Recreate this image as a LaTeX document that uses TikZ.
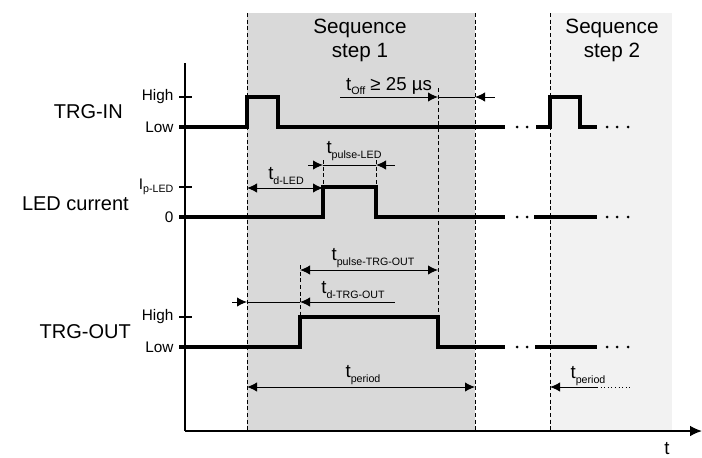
\documentclass[tikz,border=0pt]{standalone}
\usepackage{fontspec}
\setmainfont{Liberation Sans}
\usepackage{tikz}
\usetikzlibrary{arrows.meta}
\definecolor{stepone}{RGB}{217,217,217}
\definecolor{steptwo}{RGB}{242,242,242}
\newcommand{\tsub}[2]{#1\raisebox{-0.45ex}{\fontsize{8}{9}\selectfont #2}}
\newcommand{\bigsz}{\fontsize{15}{17}\selectfont}
\newcommand{\seqsz}{\fontsize{15.5}{18}\selectfont}

\begin{document}
\begin{tikzpicture}[
  x=0.75pt, y=-0.75pt, >={Latex[length=7.5pt,width=7pt]},
  signal/.style={line width=2.3pt},
  axisline/.style={line width=1.1pt},
  dim/.style={line width=0.7pt},
  guide/.style={line width=0.7pt, dash pattern=on 3pt off 2pt},
  lvl/.style={anchor=east, font=\fontsize{11.5}{13}\selectfont, inner sep=1pt},
  signame/.style={anchor=east, font=\bigsz, inner sep=0pt},
  dimlbl/.style={font=\fontsize{14}{16}\selectfont, inner sep=1pt},
  seq/.style={align=center, font=\seqsz}
]
\useasboundingbox (0,0) rectangle (702,457);

% sequence steps
\fill[stepone] (247,13) rectangle (475,431);
\fill[steptwo] (550,13) rectangle (672,431);
\draw[guide] (247,13) -- (247,431);
\draw[guide] (475,13) -- (475,431);
\draw[guide] (550,13) -- (550,431);
\node[seq] (seq1) at (360,40) {Sequence\\step 1};
\node[seq] (seq2) at (612,40) {Sequence\\step 2};

% axes
\draw[axisline] (185,63) -- (185,431);
\draw[axisline, -{Latex[length=9pt,width=8pt]}] (185,431) -- (702,431);
\node[dimlbl] (tax) at (667,449) {t};

% levels
\foreach \y in {97,187,317} \draw[axisline] (179,\y) -- (192,\y);
\node[lvl] (inhi) at (175,97) {High};
\node[lvl] (inlo) at (175,127) {Low};
\node[lvl] (ledhi) at (175,187) {\tsub{I}{p-LED}};
\node[lvl] (ledlo) at (175,217) {0};
\node[lvl] (outhi) at (175,317) {High};
\node[lvl] (outlo) at (175,347) {Low};
\node[signame] (trgin) at (123,112) {TRG-IN};
\node[signame] (led) at (129,204) {LED current};
\node[signame] (trgout) at (131,332) {TRG-OUT};

% guide lines
\draw[guide] (438,88) -- (438,347);
\draw[guide] (323,160) -- (323,187);
\draw[guide] (376,160) -- (376,187);
\draw[guide] (300,265) -- (300,317);

% signals
\draw[signal] (179,127) -| (247,97) -| (278,127) -- (505,127);
\draw[signal] (536,127) -| (550,97) -| (580,127) -- (597,127);
\draw[signal] (179,217) -| (323,187) -| (376,217) -- (505,217);
\draw[signal] (534,217) -- (597,217);
\draw[signal] (179,347) -| (300,317) -| (438,347) -- (505,347);
\draw[signal] (535,347) -- (597,347);
\foreach \y in {127,217,347} {
  \foreach \x in {517,527,607,617,628} \fill (\x,\y) circle (1.5);
}

% timings
\draw[dim, ->] (340,97) -- (438,97);
\draw[dim] (438,97) -- (475,97);
\draw[dim, <-] (475,97) -- (495,97);
\node[dimlbl] (toff) at (389,86) {\tsub{t}{Off} ≥ 25 µs};

\draw[dim, ->] (308,165) -- (323,165);
\draw[dim] (323,165) -- (376,165);
\draw[dim, <-] (376,165) -- (395,165);
\node[dimlbl] (tpled) at (354,151) {\tsub{t}{pulse-LED}};

\draw[dim, <->] (247,188) -- (323,188);
\node[dimlbl] (tdled) at (286,176) {\tsub{t}{d-LED}};

\draw[dim, <->] (300,270) -- (438,270);
\node[dimlbl] (tpout) at (373,258) {\tsub{t}{pulse-TRG-OUT}};

\draw[dim, ->] (232,302) -- (247,302);
\draw[dim] (247,302) -- (300,302);
\draw[dim, <-] (300,302) -- (395,302);
\node[dimlbl] (tdout) at (353,290) {\tsub{t}{d-TRG-OUT}};

\draw[dim, <->] (247,387) -- (475,387);
\node[dimlbl] (tper) at (363,375) {\tsub{t}{period}};

\draw[dim, <-] (550,387) -- (597,387);
\draw[dim, dotted] (597,387) -- (632,387);
\node[dimlbl] (tper2) at (588,376) {\tsub{t}{period}};
\end{tikzpicture}
\end{document}
